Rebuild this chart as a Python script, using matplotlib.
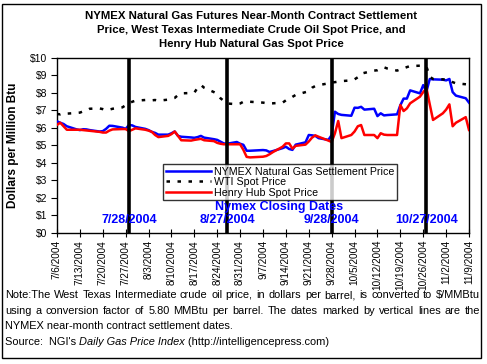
import matplotlib
matplotlib.use("Agg")
import matplotlib.pyplot as plt
import matplotlib.dates as mdates
from matplotlib.patches import Rectangle
import numpy as np
import datetime as dt

plt.rcParams['font.family'] = ['Liberation Sans', 'DejaVu Sans']

# ---------------- data ----------------
trade_dates = [
    "2004-07-06", "2004-07-07", "2004-07-08", "2004-07-09", "2004-07-12", "2004-07-13", "2004-07-14",
    "2004-07-15", "2004-07-16", "2004-07-19", "2004-07-20", "2004-07-21", "2004-07-22", "2004-07-23",
    "2004-07-26", "2004-07-27", "2004-07-28", "2004-07-29", "2004-07-30", "2004-08-02", "2004-08-03",
    "2004-08-04", "2004-08-05", "2004-08-06", "2004-08-09", "2004-08-10", "2004-08-11", "2004-08-12",
    "2004-08-13", "2004-08-16", "2004-08-17", "2004-08-18", "2004-08-19", "2004-08-20", "2004-08-23",
    "2004-08-24", "2004-08-25", "2004-08-26", "2004-08-27", "2004-08-30", "2004-08-31", "2004-09-01",
    "2004-09-02", "2004-09-03", "2004-09-07", "2004-09-08", "2004-09-09", "2004-09-10", "2004-09-13",
    "2004-09-14", "2004-09-15", "2004-09-16", "2004-09-17", "2004-09-20", "2004-09-21", "2004-09-22",
    "2004-09-23", "2004-09-24", "2004-09-27", "2004-09-28", "2004-09-29", "2004-09-30", "2004-10-01",
    "2004-10-04", "2004-10-05", "2004-10-06", "2004-10-07", "2004-10-08", "2004-10-11", "2004-10-12",
    "2004-10-13", "2004-10-14", "2004-10-15", "2004-10-18", "2004-10-19", "2004-10-20", "2004-10-21",
    "2004-10-22", "2004-10-25", "2004-10-26", "2004-10-27", "2004-10-28", "2004-10-29", "2004-11-01",
    "2004-11-02", "2004-11-03", "2004-11-04", "2004-11-05", "2004-11-08", "2004-11-09",
]

nymex = [
    6.38, 6.30, 6.23, 6.10, 5.92, 5.88, 5.93,
    5.92, 5.88, 5.80, 5.82, 5.95, 6.13, 6.12,
    6.02, 5.95, 6.17, 6.15, 6.06, 5.95, 5.88,
    5.78, 5.72, 5.62, 5.62, 5.70, 5.80, 5.55,
    5.50, 5.46, 5.44, 5.48, 5.55, 5.45, 5.36,
    5.32, 5.22, 5.12, 5.10, 5.20, 5.10, 5.04,
    4.70, 4.70, 4.74, 4.72, 4.63, 4.68, 4.85,
    4.93, 4.80, 4.75, 5.05, 5.18, 5.60, 5.58,
    5.55, 5.42, 5.32, 5.60, 6.93, 6.80, 6.75,
    6.70, 7.16, 7.15, 7.21, 7.05, 7.10, 6.68,
    6.84, 6.72, 6.74, 6.78, 7.30, 7.68, 7.68,
    8.15, 7.98, 8.45, 8.10, 8.80, 8.78, 8.76,
    8.72, 8.80, 8.05, 7.85, 7.70, 7.45,
]

wti = [
    6.80, 6.78, 6.85, 6.82, 6.86, 6.88, 6.95,
    7.00, 7.10, 7.12, 7.08, 7.02, 7.05, 7.10,
    7.18, 7.30, 7.40, 7.50, 7.56, 7.60, 7.58,
    7.58, 7.60, 7.56, 7.62, 7.68, 7.72, 7.88,
    7.98, 8.00, 8.02, 8.30, 8.46, 8.30, 8.05,
    7.95, 7.70, 7.55, 7.40, 7.36, 7.40, 7.50,
    7.48, 7.50, 7.45, 7.42, 7.40, 7.41, 7.45,
    7.58, 7.66, 7.78, 7.89, 8.05, 8.10, 8.30,
    8.40, 8.45, 8.55, 8.60, 8.62, 8.65, 8.68,
    8.72, 8.78, 8.90, 9.10, 9.15, 9.28, 9.30,
    9.38, 9.47, 9.40, 9.28, 9.35, 9.41, 9.48,
    9.54, 9.56, 9.55, 9.50, 8.93, 8.80, 8.78,
    8.76, 8.72, 8.62, 8.55, 8.50, 8.48,
]

henry_hub = [
    6.18, 6.30, 6.10, 5.90, 5.90, 5.90, 5.88,
    5.86, 5.84, 5.78, 5.74, 5.74, 5.85, 5.92,
    5.94, 5.94, 5.82, 5.90, 5.98, 5.90, 5.85,
    5.78, 5.60, 5.48, 5.55, 5.65, 5.80, 5.55,
    5.30, 5.28, 5.32, 5.35, 5.38, 5.30, 5.25,
    5.15, 5.10, 5.07, 5.07, 5.07, 5.07, 4.75,
    4.35, 4.32, 4.36, 4.40, 4.50, 4.62, 4.93,
    5.12, 5.12, 4.82, 4.98, 5.05, 5.23, 5.45,
    5.58, 5.50, 5.28, 5.20, 5.70, 6.40, 5.42,
    5.60, 5.80, 6.10, 6.17, 5.60, 5.60, 5.42,
    5.70, 5.62, 5.60, 5.60, 7.31, 6.97, 7.12,
    7.41, 7.79, 8.05, 8.27, 7.35, 6.46, 6.84,
    7.05, 7.35, 6.10, 6.30, 6.62, 5.89,
]

settle_dates = ["2004-07-28", "2004-08-27", "2004-09-28", "2004-10-27"]
settle_labels = ["7/28/2004", "8/27/2004", "9/28/2004", "10/27/2004"]

tick_start = "2004-07-06"
tick_end = "2004-11-09"

title = ("NYMEX Natural Gas Futures Near-Month Contract Settlement\n"
         "Price, West Texas Intermediate Crude Oil Spot Price, and\n"
         "Henry Hub Natural Gas Spot Price")
ylabel = "Dollars per Million Btu"
series_names = ["NYMEX Natural Gas Settlement Price", "WTI Spot Price", "Henry Hub Spot Price"]

note_lines = [
    "Note:The West Texas Intermediate crude oil price, in dollars per barrel,  is converted to $/MMBtu",
    "using a conversion factor of 5.80 MMBtu per barrel.  The dates marked by vertical lines are the",
    "NYMEX near-month contract settlement dates.",
]

# ---------------- figure ----------------
W, H = 487, 364
fig = plt.figure(figsize=(W / 100, H / 100), dpi=100)

def px(x, y):
    return x / W, 1 - y / H

# outer border
fig.patches.append(Rectangle(px(2, 358), 479 / W, 354 / H, transform=fig.transFigure,
                             fill=False, edgecolor='black', linewidth=1.0))

L, R, T, B = 57, 469, 58, 233
ax = fig.add_axes([L / W, 1 - B / H, (R - L) / W, (B - T) / H])

d = [dt.datetime.strptime(s, "%Y-%m-%d") for s in trade_dates]

LW = 1.8
ax.plot(d, nymex, color='#0000FF', lw=LW, zorder=3, label=series_names[0])
ax.plot(d, wti, color='black', lw=LW, ls=(0, (1.4, 3.0)), zorder=3, label=series_names[1])
ax.plot(d, henry_hub, color='#FF0000', lw=LW, zorder=4, label=series_names[2])

for s in settle_dates:
    ax.axvline(dt.datetime.strptime(s, "%Y-%m-%d"), color='black', lw=2.6, zorder=5)

t0 = dt.datetime.strptime(tick_start, "%Y-%m-%d")
t1 = dt.datetime.strptime(tick_end, "%Y-%m-%d")
ax.set_xlim(t0, t1)
ax.set_ylim(0, 10)

ticks = []
t = t0
while t <= t1:
    ticks.append(t)
    t += dt.timedelta(days=7)
ax.set_xticks(ticks)
ax.set_xticklabels([f"{x.month}/{x.day}/{x.year}" for x in ticks], rotation=90, fontsize=7.2)
ax.set_yticks(np.arange(0, 11, 1))
ax.set_yticklabels([f"${v}" for v in range(0, 11)], fontsize=7.5)
ax.tick_params(axis='x', direction='inout', length=6, width=0.8, pad=2)
ax.tick_params(axis='y', direction='out', length=4, width=0.8, pad=3)
for sp in ax.spines.values():
    sp.set_linewidth(1.0)

ax.set_ylabel(ylabel, fontsize=8.5, fontweight='bold', labelpad=8)

leg = ax.legend(loc='upper left', bbox_to_anchor=((163 - L) / (R - L), 1 - (164 - T) / (B - T)),
                fontsize=7.7, frameon=True, fancybox=False, borderpad=0.25, labelspacing=0.05,
                handlelength=4.2, handletextpad=0.3, borderaxespad=0)
leg.get_frame().set_edgecolor('black')
leg.get_frame().set_linewidth(1.0)
leg.set_zorder(6)

# blue annotations
ax_text_y = 1 - (220 - T) / (B - T)
for s, lab in zip(settle_dates, settle_labels):
    ax.text(mdates.date2num(dt.datetime.strptime(s, "%Y-%m-%d")), ax_text_y, lab,
            transform=ax.get_xaxis_transform(), ha='center', va='center',
            color='#0000FF', fontsize=9, fontweight='bold', zorder=7)
fig.text(*px(279, 207), "Nymex Closing Dates", ha='center', va='center',
         color='#0000FF', fontsize=9, fontweight='bold')

fig.text(*px(251, 30), title, ha='center', va='center', fontsize=8.2, fontweight='bold',
         linespacing=1.45)

# notes (justified lines)
fig.canvas.draw()
renderer = fig.canvas.get_renderer()
NS = 7.9

def justified(line, y, x0=5, x1=480, size=NS, justify=True):
    words = line.split()
    if not justify:
        fig.text(*px(x0, y), line, ha='left', va='center', fontsize=size)
        return
    arts = [fig.text(0, 0, w, fontsize=size, ha='left', va='center') for w in words]
    widths = [a.get_window_extent(renderer).width for a in arts]
    gap = (x1 - x0 - sum(widths)) / (len(words) - 1)
    x = x0
    for a, w in zip(arts, widths):
        a.set_position(px(x, y))
        x += w + gap

justified(note_lines[0], 295)
justified(note_lines[1], 311)
justified(note_lines[2], 326, justify=False)

src = fig.text(*px(5, 342), "Source:  NGI's ", ha='left', va='center', fontsize=NS)
bb = src.get_window_extent(renderer)
it = fig.text(*px(5 + bb.width, 342), "Daily Gas Price Index", ha='left', va='center',
              fontsize=NS, style='italic')
bb2 = it.get_window_extent(renderer)
fig.text(*px(5 + bb.width + bb2.width, 342), " (http://intelligencepress.com)", ha='left',
         va='center', fontsize=NS)

fig.savefig("out.png", dpi=100)
